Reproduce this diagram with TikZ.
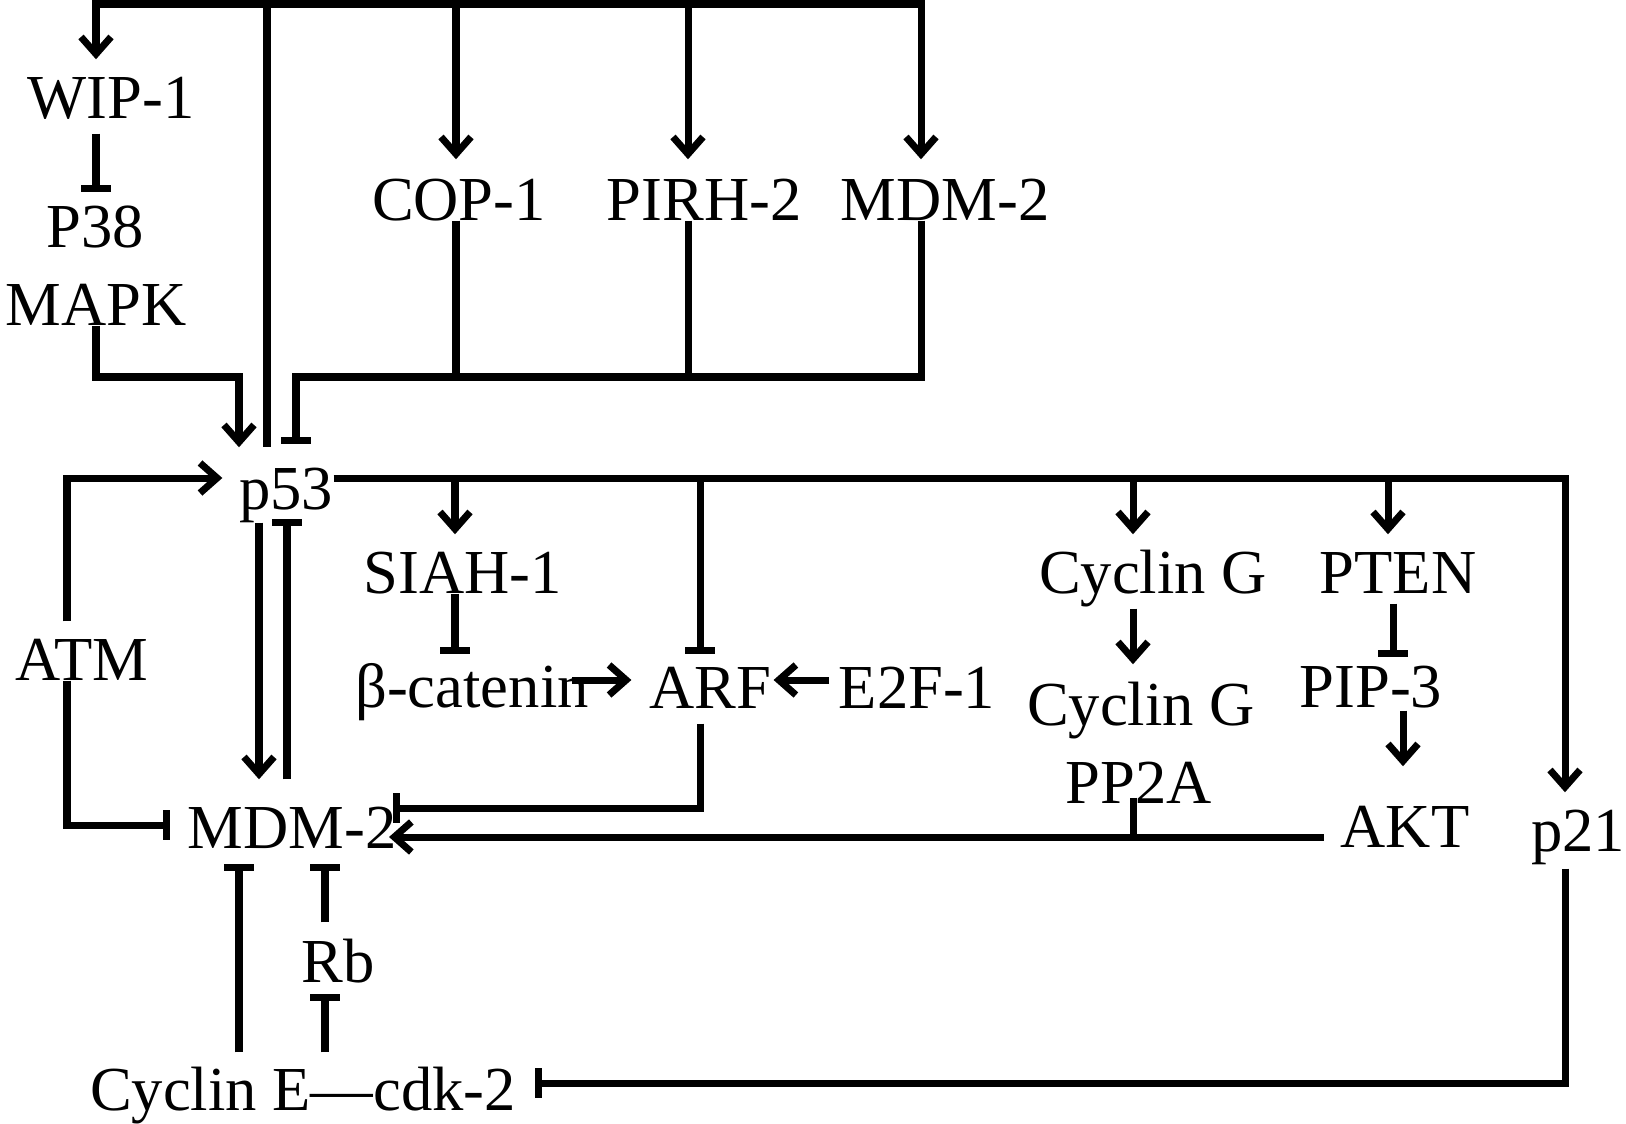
\documentclass[tikz,border=0pt]{standalone}
\usepackage{fontspec}
\setmainfont{Liberation Serif}
\usetikzlibrary{arrows.meta}
\begin{document}
\begin{tikzpicture}[x=0.01cm,y=-0.01cm,
  lw/.style={line width=0.07cm, line join=miter, line cap=butt},
  act/.style={lw, -{Straight Barb[length=0.17cm,width=0.3cm,line width=0.07cm]}},
  inh/.style={lw, -{Bar[width=0.29cm]}},
  lbl/.style={inner sep=0pt, anchor=base, text height=0.43cm, text depth=0pt, font=\fontsize{17.8pt}{20pt}\selectfont}]
\useasboundingbox (0,0) rectangle (1626,1124);
% nodes
\node[lbl] (wip) at (111,118) {WIP-1};
\node[lbl] (p38) at (95,248) {P38};
\node[lbl] (mapk) at (96,325) {MAPK};
\node[lbl] (cop) at (459,220) {COP-1};
\node[lbl] (pirh) at (704,220) {PIRH-2};
\node[lbl] (mdmt) at (945,220) {MDM-2};
\node[lbl] (p53) at (286,509) {p53};
\node[lbl] (atm) at (82,680) {ATM};
\node[lbl] (siah) at (463,593) {SIAH-1};
\node[lbl] (bcat) at (472,707) {β-catenin};
\node[lbl] (arf) at (710,708) {ARF};
\node[lbl] (e2f) at (917,708) {E2F-1};
\node[lbl] (cycg) at (1153,593) {Cyclin G};
\node[lbl] (pten) at (1398,593) {PTEN};
\node[lbl] (cycg2) at (1141,725) {Cyclin G};
\node[lbl] (pp2a) at (1139,803) {PP2A};
\node[lbl] (pip) at (1371,707) {PIP-3};
\node[lbl] (akt) at (1405,847) {AKT};
\node[lbl] (p21) at (1578,851) {p21};
\node[lbl] (mdm) at (292,848) {MDM-2};
\node[lbl] (rb) at (338,982) {Rb};
\node[lbl] (cyce) at (303,1110) {Cyclin E—cdk-2};
% junction coordinates
\coordinate (tW) at (96,4);
\coordinate (tP) at (267,4);
\coordinate (tC) at (456,4);
\coordinate (tR) at (688,4);
\coordinate (tM) at (921,4);
\coordinate (bI) at (296,377);
\coordinate (mA) at (239,377);
\coordinate (aL) at (67,478);
\coordinate (aB) at (67,825);
\coordinate (rC) at (1565,478);
\coordinate (xd) at (259,600);
\coordinate (xu) at (287,600);
\coordinate (sX) at (455,478);
\coordinate (aX) at (700,478);
\coordinate (gX) at (1133,478);
\coordinate (nX) at (1388,478);
\coordinate (ptX) at (1393,600);
\coordinate (paX) at (1403,600);
\coordinate (hA) at (600,680);
\coordinate (arfL) at (700,808);
\coordinate (pj) at (1133,837);
\coordinate (pB) at (1565,1083);
\coordinate (eX) at (239,950);
\coordinate (rX) at (325,950);
% top distribution from p53
\draw[lw, shorten >=0.18cm] (tP) -- (tP |- p53.north);
\draw[act, shorten >=0.15cm] (tP) -| (tW |- wip.north);
\draw[act, shorten >=0.17cm] (tP) -| (tM |- mdmt.north);
\draw[act, shorten >=0.17cm] (tC) -- (tC |- cop.north);
\draw[act, shorten >=0.17cm] (tR) -- (tR |- pirh.north);
% WIP-1 -| P38, MAPK -> p53
\draw[inh, shorten <=0.15cm, shorten >=0.12cm] (tW |- wip.south) -- (tW |- p38.north);
\draw[act, shorten >=0.18cm] (mapk.south) |- (mA) -- (mA |- p53.north);
% COP-1, PIRH-2, MDM-2 -| p53
\draw[inh, shorten >=0.21cm] (tM |- mdmt.south) |- (bI) -- (bI |- p53.north);
\draw[lw] (tC |- cop.south) -- (tC |- bI);
\draw[lw] (tR |- pirh.south) -- (tR |- bI);
% ATM
\draw[act, shorten <=0.15cm, shorten >=0.16cm] (aL |- atm.north) -- (aL) -- (p53.west |- aL);
\draw[inh, shorten >=0.17cm] (aL |- atm.south) -- (aB) -- (mdm.west |- aB);
% p53 <-> MDM-2
\draw[act, shorten <=0.13cm, shorten >=0.25cm] (xd |- p53.south) -- (xd |- mdm.north);
\draw[inh, shorten <=0.25cm, shorten >=0.09cm] (xu |- mdm.north) -- (xu |- p53.south);
% p53 right bus
\draw[act, shorten >=0.15cm] (p53.east |- rC) -- (rC) -- (rC |- p21.north);
\draw[act, shorten >=0.15cm] (sX) -- (sX |- siah.north);
\draw[inh, shorten >=0.09cm] (sX |- siah.south) -- (sX |- bcat.north);
\draw[inh, shorten >=0.1cm] (aX) -- (aX |- arf.north);
\draw[act, shorten >=0.15cm] (gX) -- (gX |- cycg.north);
\draw[act, shorten >=0.15cm] (nX) -- (nX |- pten.north);
\draw[act, shorten <=0.15cm, shorten >=0.17cm] (gX |- cycg.south) -- (gX |- cycg2.north);
\draw[inh, shorten <=0.1cm, shorten >=0.06cm] (ptX |- pten.south) -- (ptX |- pip.north);
\draw[act, shorten <=0.03cm, shorten >=0.37cm] (paX |- pip.south) -- (paX |- akt.north);
% ARF
\draw[act, shorten <=-0.17cm, shorten >=0.17cm] (bcat.east |- hA) -- (arf.west |- hA);
\draw[act, shorten <=0.09cm, shorten >=0.02cm] (e2f.west |- hA) -- (arf.east |- hA);
\draw[inh, shorten <=0.15cm, shorten >=-0.04cm] (arf.south -| arfL) -- (arfL) -- (mdm.east |- arfL);
% AKT -> MDM-2, PP2A
\draw[act, shorten <=0.16cm, shorten >=-0.08cm] (akt.west |- pj) -- (mdm.east |- pj);
\draw[lw, shorten <=-0.06cm] (gX |- pp2a.south) -- (pj);
% p21 -| cdk-2
\draw[inh, shorten <=0.17cm, shorten >=0.18cm] (pB |- p21.south) -- (pB) -- (cyce.east |- pB);
% Cyclin E, Rb
\draw[inh, shorten <=0.14cm, shorten >=0.15cm] (eX |- cyce.north) -- (eX |- mdm.south);
\draw[inh, shorten <=0.14cm, shorten >=0.11cm] (rX |- cyce.north) -- (rX |- rb.south);
\draw[inh, shorten <=0.16cm, shorten >=0.15cm] (rX |- rb.north) -- (rX |- mdm.south);
\end{tikzpicture}
\end{document}
